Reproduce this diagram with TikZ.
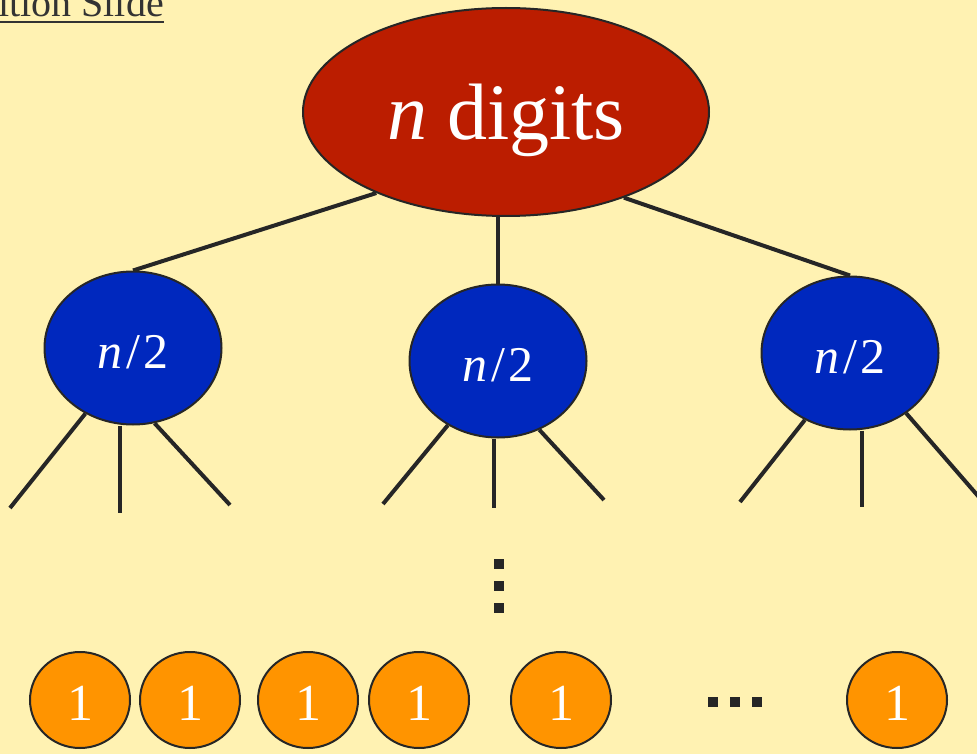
\documentclass[tikz,border=0pt]{standalone}
\usepackage{fontspec}
\setmainfont{Liberation Serif}
\usetikzlibrary{shapes.geometric,backgrounds}

\definecolor{paper}{RGB}{255,242,178}
\definecolor{rootred}{RGB}{187,29,0}
\definecolor{midblue}{RGB}{0,40,190}
\definecolor{leaforange}{RGB}{255,148,0}
\definecolor{ink}{RGB}{38,38,38}
\definecolor{titleink}{RGB}{51,51,51}

% the paper sits below the branch lines, which sit below the nodes
\pgfdeclarelayer{paperlayer}
\pgfsetlayers{paperlayer,background,main}

\tikzset{
  treenode/.style={ellipse, draw=ink, line width=2pt, inner sep=0pt, text=white},
  rootnode/.style={treenode, fill=rootred, minimum width=406pt, minimum height=208pt,
    font=\fontsize{80}{82}\selectfont, text height=56pt, text depth=0pt},
  halfnode/.style={treenode, fill=midblue, minimum width=177pt, minimum height=153pt,
    font=\fontsize{50}{52}\selectfont, text height=40pt, text depth=0pt},
  unitnode/.style={treenode, fill=leaforange, minimum width=100pt, minimum height=96pt,
    font=\fontsize{52}{54}\selectfont, text height=40pt, text depth=0pt},
  edge/.style={draw=ink, line width=4pt},
  dotmark/.style={rectangle, fill=ink, minimum size=10pt, inner sep=0pt}
}

\newcommand{\halftext}{\textit{n}\hspace{0.08em}/\hspace{0.08em}2}

\begin{document}
\begin{tikzpicture}[x=1pt, y=-1pt]
  % canvas
  \begin{pgfonlayer}{paperlayer}
    \fill[paper] (0,0) rectangle (977,754);
  \end{pgfonlayer}
  \useasboundingbox (0,0) rectangle (977,754);

  % slide title, cut by the left page edge
  \node[anchor=base east, inner sep=0pt, text=titleink,
        font=\fontsize{40}{42}\selectfont] (title) at (164,17) {ition Slide};
  \draw[titleink, line width=2pt] (title.base west |- 0,22.5) -- (164,22.5);

  % root of the recursion
  \node[rootnode] (root) at (506,112) {\textit{n} digits};

  % first level
  \node[halfnode] (b1) at (133,348) {\halftext};
  \node[halfnode] (b2) at (498,361) {\halftext};
  \node[halfnode] (b3) at (850,353) {\halftext};

  % leaves
  \node[unitnode] (u1) at (80,700)  {1};
  \node[unitnode] (u2) at (190,700) {1};
  \node[unitnode] (u3) at (308,700) {1};
  \node[unitnode] (u4) at (419,700) {1};
  \node[unitnode] (u5) at (561,700) {1};
  \node[unitnode] (u6) at (897,700) {1};

  % vertical and horizontal ellipsis marks
  \node[dotmark] (v1) at (499,564) {};
  \node[dotmark] (v2) at (499,586) {};
  \node[dotmark] (v3) at (499,608) {};
  \node[dotmark] (h1) at (713,702) {};
  \node[dotmark] (h2) at (735,702) {};
  \node[dotmark] (h3) at (757,702) {};

  % loose ends of the second-level branches
  \coordinate (e11) at (10,508);
  \coordinate (e12) at (120,513);
  \coordinate (e13) at (230,505);
  \coordinate (e21) at (383,504);
  \coordinate (e22) at (494,508);
  \coordinate (e23) at (604,500);
  \coordinate (e31) at (740,502);
  \coordinate (e32) at (862,507);
  \coordinate (e33) at (985,504);

  \begin{scope}[on background layer]
    % root to first level
    \draw[edge] (root.212.7) -- (b1.north);
    \draw[edge] (root.south -| b2.north) -- (b2.north);
    \draw[edge] (root.324.8) -- (b3.north);
    % first level to the next
    \draw[edge] (b1.234) -- (e11);
    \draw[edge] (b1.south -| e12) -- (e12);
    \draw[edge] (b1.286.3) -- (e13);
    \draw[edge] (b2.232) -- (e21);
    \draw[edge] (b2.south -| e22) -- (e22);
    \draw[edge] (b2.301.3) -- (e23);
    \draw[edge] (b3.236.7) -- (e31);
    \draw[edge] (b3.south -| e32) -- (e32);
    \draw[edge] (b3.313) -- (e33);
  \end{scope}
\end{tikzpicture}
\end{document}
